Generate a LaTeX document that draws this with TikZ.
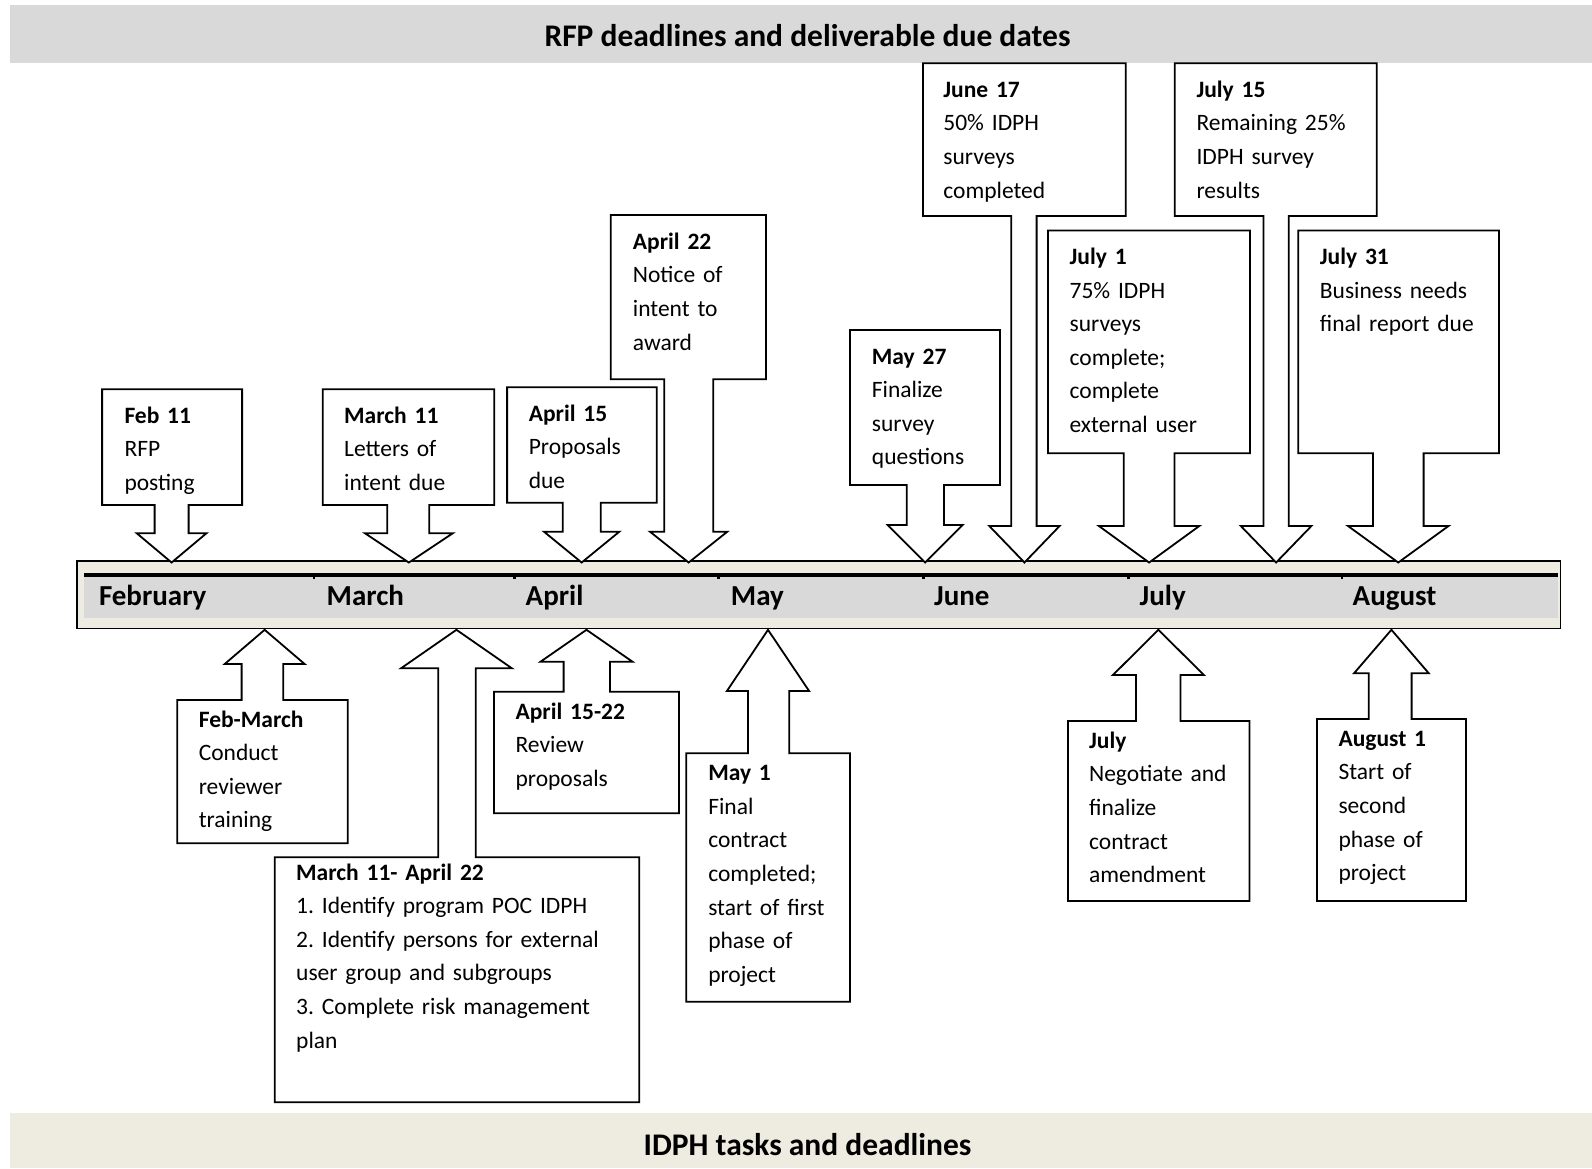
\documentclass[tikz,border=0pt]{standalone}
\usepackage{fontspec}
\setmainfont{Carlito}
\definecolor{bandgray}{HTML}{D9D9D9}
\definecolor{bandbeige}{HTML}{EEECE1}
\newcommand\mycallout[9]{%
  \draw[callout] (#1,#2) -- (#3,#2) -- (#3,#4) -- (#6,#4) -- (#6,#9) -- (#8,#9)
    -- ({(#7+#8)/2},\mytipy) -- (#7,#9) -- (#5,#9) -- (#5,#4) -- (#1,#4) -- cycle;}
\newcommand\downcall{\def\mytipy{562.5}\mycallout}
\newcommand\upcall{\def\mytipy{629.8}\mycallout}
\frenchspacing
\begin{document}
\begin{tikzpicture}[x=1pt,y=-1pt,
  callout/.style={draw=black, line width=1.8pt, fill=white, line join=miter},
  txt/.style={anchor=base west, inner sep=0pt, text width=420pt, align=left,
    font=\fontsize{23.5}{33.6}\selectfont\frenchspacing},
  month/.style={anchor=base west, inner sep=0pt, font=\fontsize{29}{34}\selectfont\bfseries},
  ttl/.style={anchor=base, inner sep=0pt, font=\fontsize{31.5}{38}\selectfont\bfseries}]
\useasboundingbox (0,0) rectangle (1592,1168);
\fill[white] (0,0) rectangle (1592,1168);
% header and footer bands
\fill[bandgray] (10,5) rectangle (1592,62.7);
\node[ttl] (toptitle) at (807.5,46.7) {RFP deadlines and deliverable due dates};
\fill[bandbeige] (10,1113.3) rectangle (1592,1168);
\node[ttl] (bottomtitle) at (807.5,1155) {IDPH tasks and deadlines};
% timeline bar
\draw[line width=1.5pt, fill=bandbeige] (77.1,561) rectangle (1560.6,628.3);
\fill[bandgray] (83.6,576.7) rectangle (1558,618.3);
\fill[black] (83.6,572.7) rectangle (1558,576.7);
\foreach \tx in {313.6,514,718,923,1128,1341.6}
  \fill[black] (\tx-1,576.7) rectangle (\tx+1.5,579.2);
% months
\node[month] (feb) at (98.8,605) {February};
\node[month] (mar) at (326.5,605) {March};
\node[month] (apr) at (525.5,605) {April};
\node[month] (may) at (730.7,605) {May};
\node[month] (jun) at (934,605) {June};
\node[month] (jul) at (1139.5,605) {July};
\node[month] (aug) at (1352.5,605) {August};
% callouts above (pointing down)
\downcall{102.1}{389.3}{242.1}{505}{154.6}{188.6}{136.8}{206.4}{533.3}
\downcall{322.7}{389.3}{494.3}{505}{387.3}{429.3}{365}{452.7}{533.3}
\downcall{507.1}{387.3}{656.7}{502.7}{562.7}{600.7}{544}{619.3}{531.7}
\downcall{610.7}{215}{766}{379.3}{664.3}{713.3}{650}{727.3}{531.7}
\downcall{850}{330}{1000}{485}{906.7}{944}{887.7}{962.7}{525}
\downcall{923}{63.2}{1125.7}{216}{1011.3}{1036.6}{989.3}{1059.6}{526}
\downcall{1047.9}{230.4}{1249.9}{453.2}{1123.8}{1174.4}{1098.9}{1199.3}{526}
\downcall{1174.8}{63.2}{1376.7}{216}{1263.5}{1288.8}{1240.8}{1311.4}{526}
\downcall{1298.2}{230.4}{1499}{453.2}{1373}{1423.6}{1348}{1448.5}{526}
% callouts below (pointing up)
\upcall{177.2}{843.3}{347.7}{700}{241.6}{283.3}{224.7}{304.6}{664}
\upcall{274.7}{1102.3}{639.3}{857.3}{438.2}{475.8}{401}{511.9}{668.3}
\upcall{494}{813.3}{678.9}{691.7}{563.6}{610}{540.5}{632.5}{661.7}
\upcall{686.2}{1001.7}{849.9}{753.3}{747.9}{789.2}{726.9}{809.1}{691}
\upcall{1068}{901}{1249.4}{721}{1136}{1180.4}{1112.9}{1203.9}{675}
\upcall{1316.9}{901}{1466}{719}{1368.7}{1411.6}{1354}{1428.8}{673.3}
% texts above
\node[txt] (t1) at (124.3,423.3) {\textbf{Feb 11}\\RFP\\posting};
\node[txt] (t2) at (344,423.3) {\textbf{March 11}\\Letters of\\intent due};
\node[txt] (t3) at (528.6,421.3) {\textbf{April 15}\\Proposals\\due};
\node[txt] (t4) at (632.7,249.3) {\textbf{April 22}\\Notice of\\intent to\\award};
\node[txt] (t5) at (871.7,364) {\textbf{May 27}\\Finalize\\survey\\questions};
\node[txt] (t6) at (943.2,97.2) {\textbf{June 17}\\50\% IDPH\\surveys\\completed};
\node[txt] (t7) at (1069.4,264.4) {\textbf{July 1}\\75\% IDPH\\surveys\\complete;\\complete\\external user};
\node[txt] (t8) at (1196.3,97.2) {\textbf{July 15}\\Remaining 25\%\\IDPH survey\\results};
\node[txt] (t9) at (1319.7,264.4) {\textbf{July 31}\\Business needs\\final report due};
% texts below
\node[txt] (t10) at (198.6,727) {\textbf{Feb-March}\\Conduct\\reviewer\\training};
\node[txt] (t11) at (296,880) {\textbf{March 11- April 22}\\1. Identify program POC IDPH\\2. Identify persons for external\\user group and subgroups\\3. Complete risk management\\plan};
\node[txt] (t12) at (515.4,719.3) {\textbf{April 15-22}\\Review\\proposals};
\node[txt] (t13) at (708.1,780.7) {\textbf{May 1}\\Final\\contract\\completed;\\start of first\\phase of\\project};
\node[txt] (t14) at (1088.9,748.3) {\textbf{July}\\Negotiate and\\finalize\\contract\\amendment};
\node[txt] (t15) at (1338.3,746.3) {\textbf{August 1}\\Start of\\second\\phase of\\project};
\end{tikzpicture}
\end{document}
